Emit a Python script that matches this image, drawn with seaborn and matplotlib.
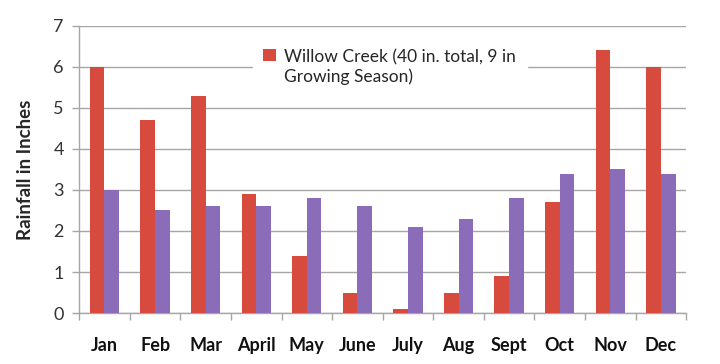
import pandas as pd
import matplotlib
matplotlib.use("Agg")
import matplotlib.pyplot as plt
import seaborn as sns
from matplotlib.ticker import FixedLocator

# data
months = ['Jan', 'Feb', 'Mar', 'April', 'May', 'June', 'July', 'Aug', 'Sept', 'Oct', 'Nov', 'Dec']
willow_creek = [6.0, 4.7, 5.3, 2.9, 1.4, 0.5, 0.1, 0.5, 0.9, 2.7, 6.4, 6.0]
second_site = [3.0, 2.5, 2.6, 2.6, 2.8, 2.6, 2.1, 2.3, 2.8, 3.4, 3.5, 3.4]
series_names = ['Willow Creek (40 in. total, 9 in\nGrowing Season)', 'Other site']
y_ticks = [0, 1, 2, 3, 4, 5, 6, 7]

df = pd.DataFrame({
    'month': months * 2,
    'rain': willow_creek + second_site,
    'site': [series_names[0]] * len(months) + [series_names[1]] * len(months),
})

sns.set_theme(style='white')
plt.rcParams['font.family'] = ['Lato', 'DejaVu Sans']

fig, ax = plt.subplots(figsize=(7.2, 3.64), dpi=100)
fig.subplots_adjust(left=0.11, right=0.953, bottom=0.14, top=0.929)

sns.barplot(data=df, x='month', y='rain', hue='site', order=months,
            palette=['#D64B3E', '#8B6CB8'], width=0.58, gap=0,
            saturation=1, linewidth=0, ax=ax, zorder=3)

ax.set_ylim(0, 7)
ax.set_xlim(-0.5, len(months) - 0.5)
ax.set_yticks(y_ticks)
ax.set_yticklabels([str(t) for t in y_ticks], fontsize=13, color='#333333')
ax.yaxis.grid(True, color='#A6A6A6', linewidth=1.0, zorder=0)
ax.set_axisbelow(True)

ax.set_xlabel('')
ax.set_ylabel('Rainfall in Inches', fontsize=13.5, fontweight='bold', labelpad=14)
for lbl in ax.get_xticklabels():
    lbl.set_fontsize(13)
    lbl.set_fontweight('bold')
    lbl.set_color('#111111')

# tick marks between categories, like a spreadsheet chart
ax.tick_params(axis='x', which='major', length=0, pad=17)
ax.xaxis.set_minor_locator(FixedLocator([i - 0.5 for i in range(len(months) + 1)]))
ax.tick_params(axis='x', which='minor', length=5, color='#A6A6A6', width=1, bottom=True)
ax.tick_params(axis='y', which='major', length=5, color='#A6A6A6', width=1, left=True, pad=6)

for side in ['top', 'right']:
    ax.spines[side].set_visible(False)
for side in ['left', 'bottom']:
    ax.spines[side].set_color('#A6A6A6')
    ax.spines[side].set_linewidth(1)

handles, labels = ax.get_legend_handles_labels()
leg = ax.legend(handles[:1], labels[:1], loc='upper left',
                bbox_to_anchor=(0.272, 0.985), frameon=True, fontsize=12.5,
                handlelength=0.7, handleheight=0.7, handletextpad=0.5,
                borderpad=0.6, fancybox=False)
leg.get_frame().set_facecolor('white')
leg.get_frame().set_edgecolor('white')
leg.get_frame().set_alpha(1)
leg.set_zorder(5)
# put the marker next to the first line of the wrapped label
for col in leg._legend_handle_box.get_children():
    for item in col.get_children():
        item.align = 'top'

fig.savefig('out.png', dpi=100)
plt.close(fig)
